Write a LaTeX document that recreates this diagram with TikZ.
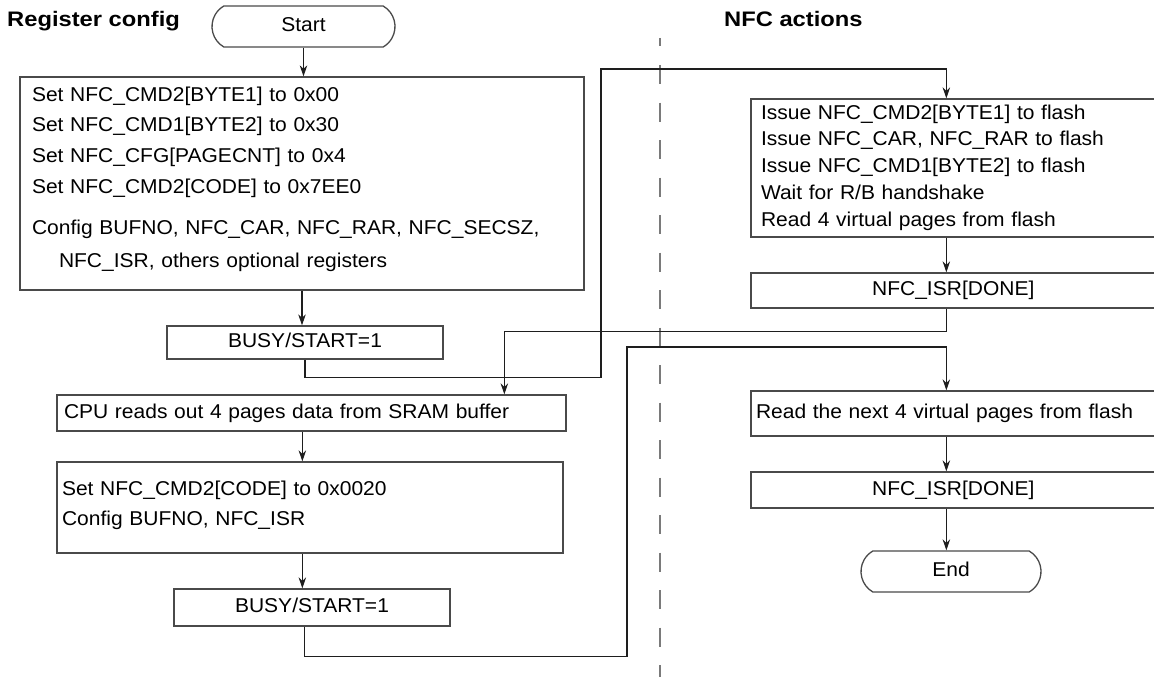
\documentclass[tikz,border=0pt]{standalone}
\usepackage{fontspec}
\setmainfont{Liberation Sans}[FakeStretch=1.05]
\newfontfamily\titlefont{Liberation Sans}[FakeStretch=1.13]
\usetikzlibrary{arrows.meta,shapes.misc}
\definecolor{boxgray}{HTML}{4A4A4A}
\definecolor{dashgray}{HTML}{7A7A7A}
\definecolor{linecol}{HTML}{1E1E1E}
\newcommand{\bodyfont}{\fontsize{20pt}{30.7pt}\selectfont}
\newcommand{\nfcfont}{\fontsize{20pt}{26.75pt}\selectfont}
\newcommand{\sstrut}{\rule[-5pt]{0pt}{20pt}}
\newcommand{\topstrut}{\rule{0pt}{15pt}}
\newcommand{\dstrut}[1]{\rule[-#1]{0pt}{#1}}
\begin{document}
\begin{tikzpicture}[x=1pt,y=-1pt,
  box/.style={draw=boxgray, line width=1.3pt, rectangle, inner sep=0pt, font=\bodyfont},
  textbox/.style={box, align=left},
  term/.style={draw=boxgray, line width=1.3pt, rounded rectangle, rounded rectangle arc length=120, inner sep=0pt, font=\bodyfont},
  title/.style={font=\titlefont\fontsize{21pt}{25pt}\selectfont\bfseries, inner sep=0pt},
  conn/.style={draw=linecol, line width=1.2pt},
  arr/.style={conn, -{Stealth[length=11pt,width=7.5pt,inset=3.5pt]}},
  sepline/.style={draw=dashgray, line width=1.8pt, dash pattern=on 19pt off 18.5pt, dash phase=10.5pt}]
\useasboundingbox (0,0) rectangle (1154,677);

% titles
\node[title, anchor=base west] (regtitle) at (7,27) {Register config};
\node[title, anchor=base west] (nfctitle) at (724,27) {NFC actions};

% separator
\draw[sepline] (660,38) -- (660,677);

% left column
\node[term, minimum width=183pt, minimum height=41pt] (start) at (303.5,26.5) {\sstrut Start};
\node[textbox, minimum width=564pt, minimum height=213pt, text width=540pt, inner xsep=12pt] (cfg) at (302,183.5)
 {\topstrut Set NFC\_CMD2[BYTE1] to 0x00\\
  Set NFC\_CMD1[BYTE2] to 0x30\\
  Set NFC\_CFG[PAGECNT] to 0x4\\
  Set NFC\_CMD2[CODE] to 0x7EE0\\[11pt]
  Config BUFNO, NFC\_CAR, NFC\_RAR, NFC\_SECSZ,\\[2.5pt]
  \hspace*{27pt}NFC\_ISR, others optional registers\dstrut{13pt}};
\node[box, minimum width=276pt, minimum height=33pt] (busy1) at (305,342.5) {\sstrut BUSY/START=1};
\node[textbox, minimum width=509pt, minimum height=36pt, text width=495pt, inner xsep=7pt] (cpu) at (311.5,413)
 {\sstrut CPU reads out 4 pages data from SRAM buffer};
\node[textbox, minimum width=506pt, minimum height=91pt, text width=496pt, inner xsep=5pt, font=\fontsize{20pt}{30pt}\selectfont] (box2) at (310,507.5)
 {\topstrut Set NFC\_CMD2[CODE] to 0x0020\\
  Config BUFNO, NFC\_ISR\dstrut{10pt}};
\node[box, minimum width=276pt, minimum height=37pt] (busy2) at (312,607.5) {\sstrut BUSY/START=1};

% right column
\node[textbox, minimum width=404.5pt, minimum height=138pt, text width=384.5pt, inner xsep=10pt, font=\nfcfont] (nfc1) at (953.25,168)
 {\topstrut Issue NFC\_CMD2[BYTE1] to flash\\
  Issue NFC\_CAR, NFC\_RAR to flash\\
  Issue NFC\_CMD1[BYTE2] to flash\\
  Wait for R/B handshake\\
  Read 4 virtual pages from flash\dstrut{6pt}};
\node[box, minimum width=404.5pt, minimum height=35pt] (isr1) at (953.25,290.5) {\sstrut NFC\_ISR[DONE]};
\node[textbox, minimum width=404.5pt, minimum height=45pt, text width=394.5pt, inner xsep=5pt] (next) at (953.25,413.5)
 {\sstrut Read the next 4 virtual pages from flash};
\node[box, minimum width=404.5pt, minimum height=36pt] (isr2) at (953.25,490) {\sstrut NFC\_ISR[DONE]};
\node[term, minimum width=180pt, minimum height=41pt] (end) at (951,571.5) {\sstrut End};

% connectors
\draw[arr] (start.south) -- (start.south |- cfg.north);
\draw[arr] (cfg.south) -- (cfg.south |- busy1.north);
\draw[arr] (busy1.south) -- ++(0,18) -| (601,69) -| ([xshift=196pt]nfc1.north west);
\draw[arr] ([xshift=196pt]nfc1.south west) -- ([xshift=196pt]isr1.north west);
\draw[arr] ([xshift=196pt]isr1.south west) -- ++(0,23) -| ([xshift=448pt]cpu.north west);
\draw[arr] ([xshift=246pt]cpu.south west) -- ([xshift=246pt]cpu.south west |- box2.north);
\draw[arr] ([xshift=246pt]box2.south west) -- ([xshift=246pt]box2.south west |- busy2.north);
\draw[arr] ([xshift=131pt]busy2.south west) -- ++(0,30) -| (627,347) -| ([xshift=196pt]next.north west);
\draw[arr] ([xshift=196pt]next.south west) -- ([xshift=196pt]isr2.north west);
\draw[arr] ([xshift=196pt]isr2.south west) -- ([xshift=196pt]isr2.south west |- end.north);
\end{tikzpicture}
\end{document}
